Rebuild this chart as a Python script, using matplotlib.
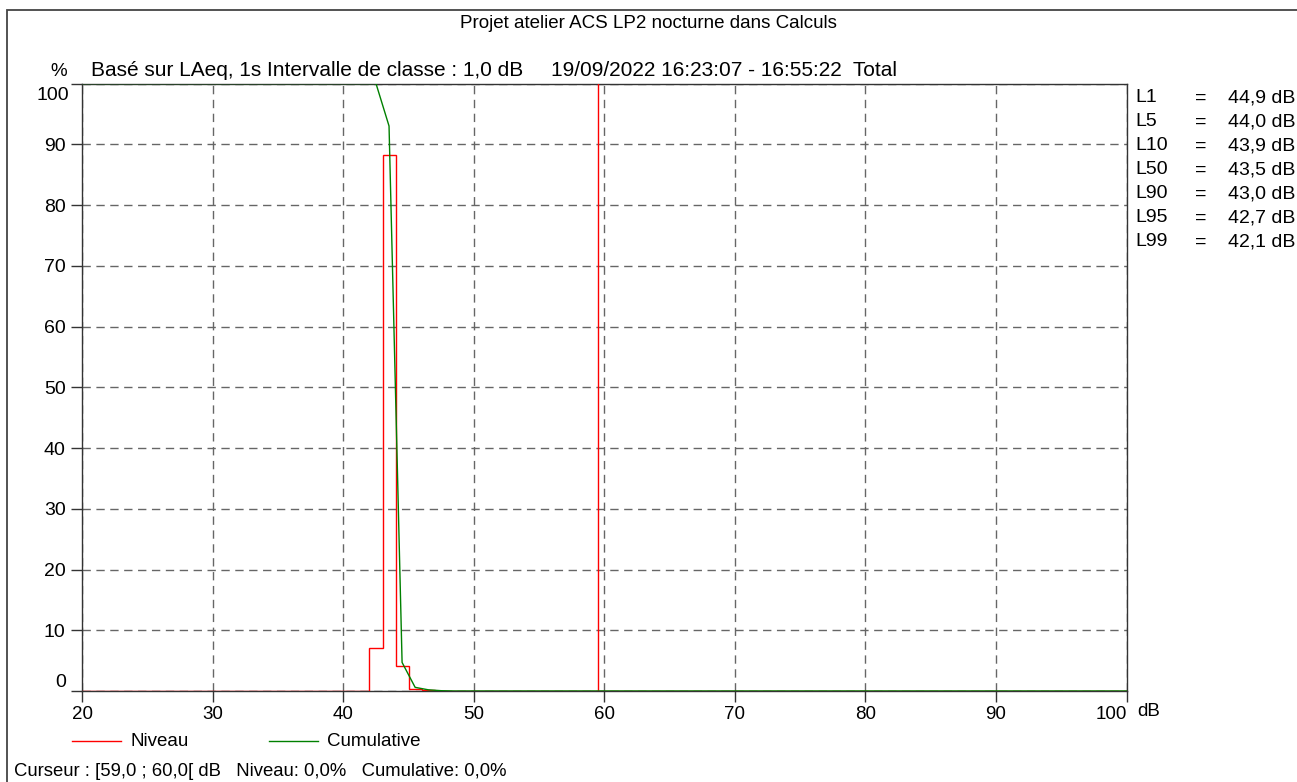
import numpy as np
import matplotlib
matplotlib.use('Agg')
from matplotlib import pyplot as plt
from matplotlib.patches import Rectangle

plt.rcParams['font.family'] = ['Liberation Sans', 'DejaVu Sans']
plt.rcParams['font.size'] = 13.5

# classes de 1 dB, de 20 a 100 dB
edges = np.arange(20, 101, 1)
niveau_bins = [42, 43, 44, 45, 46, 47]
niveau_pct = [7.1, 88.2, 4.1, 0.4, 0.15, 0.05]
# cumulative (au centre des classes)
cum_db = [20, 42.5, 43.5, 44.5, 45.5, 46.5, 47.5, 48.5, 100]
cum_pct = [100, 100, 93.0, 4.7, 0.6, 0.2, 0.05, 0, 0]
curseur_db = 59.5
xticks = [20, 30, 40, 50, 60, 70, 80, 90, 100]
yticks = [0, 10, 20, 30, 40, 50, 60, 70, 80, 90, 100]
stats_names = ['L1', 'L5', 'L10', 'L50', 'L90', 'L95', 'L99']
stats_vals = ['44,9', '44,0', '43,9', '43,5', '43,0', '42,7', '42,1']

niveau = np.zeros(len(edges) - 1)
for b, p in zip(niveau_bins, niveau_pct):
    niveau[b - 20] = p

W, H = 1297, 782
fig = plt.figure(figsize=(W / 100, H / 100), dpi=100)
ax = fig.add_axes([82.3 / W, 1 - 691 / H, (1126.5 - 82.3) / W, (691 - 83.5) / H])

def fx(px):
    return px / W

def fy(py):
    return 1 - py / H

# cadre de la figure
fig.patches.append(Rectangle((fx(7), -0.1), 1.2, fy(10) + 0.1, transform=fig.transFigure,
                             fill=False, edgecolor='#444444', linewidth=1.3))

ax.grid(True, linestyle=(0, (6, 4)), color='#666666', linewidth=1)
ax.stairs(niveau, edges, color='red', linewidth=1, baseline=0, zorder=3)
ax.plot(cum_db, cum_pct, color='green', linewidth=1, zorder=4)
ax.plot([curseur_db, curseur_db], [0, 100], color='red', linewidth=1, zorder=3)

ax.set_xlim(20, 100)
ax.set_ylim(0, 100)
ax.set_xticks(xticks)
ax.set_yticks(yticks)
ax.set_xticklabels([str(t) for t in xticks])
# le 100 est place a part, un peu sous le cadre
ax.set_yticklabels([str(t) for t in yticks[:-1]] + [''])
ax.tick_params(direction='out', length=8, width=1, color='#333333', labelsize=13.5)
ax.tick_params(axis='x', pad=3)
ax.tick_params(axis='y', pad=4, labelsize=14)
ax.get_yticklabels()[0].set_va('bottom')
ax.get_xticklabels()[-1].set_ha('right')
ax.annotate(str(yticks[-1]), xy=(0, yticks[-1]), xycoords=('axes fraction', 'data'),
            xytext=(-13, -12), textcoords='offset pixels', ha='right', va='center', fontsize=14)
for s in ax.spines.values():
    s.set_color('#333333')
    s.set_linewidth(1)

fig.text(0.5, fy(23), 'Projet atelier ACS LP2 nocturne dans Calculs', ha='center', va='center')
fig.text(fx(59), fy(71), '%', ha='center', va='center')
fig.text(fx(91), fy(71), 'Basé sur LAeq, 1s Intervalle de classe : 1,0 dB',
         ha='left', va='center', fontsize=15)
fig.text(fx(551), fy(71), '19/09/2022 16:23:07 - 16:55:22  Total',
         ha='left', va='center', fontsize=15)
fig.text(fx(1137), fy(712), 'dB', ha='left', va='center')

for i, (n, v) in enumerate(zip(stats_names, stats_vals)):
    y = fy(98 + 24 * i)
    fig.text(fx(1135), y, n, ha='left', va='center', fontsize=14)
    fig.text(fx(1201), y, '=', ha='center', va='center', fontsize=14)
    fig.text(fx(1295), y, v + ' dB', ha='right', va='center', fontsize=14)

# legende
fig.lines.append(plt.Line2D([fx(72), fx(121)], [fy(741), fy(741)], color='red', linewidth=1,
                            transform=fig.transFigure))
fig.text(fx(130), fy(741), 'Niveau', ha='left', va='center')
fig.lines.append(plt.Line2D([fx(269), fx(318)], [fy(741), fy(741)], color='green', linewidth=1,
                            transform=fig.transFigure))
fig.text(fx(327), fy(741), 'Cumulative', ha='left', va='center')

fig.text(fx(14), fy(771), 'Curseur : [59,0 ; 60,0[ dB   Niveau: 0,0%   Cumulative: 0,0%',
         ha='left', va='center', fontsize=13.3)

fig.savefig('out.png', dpi=100)
